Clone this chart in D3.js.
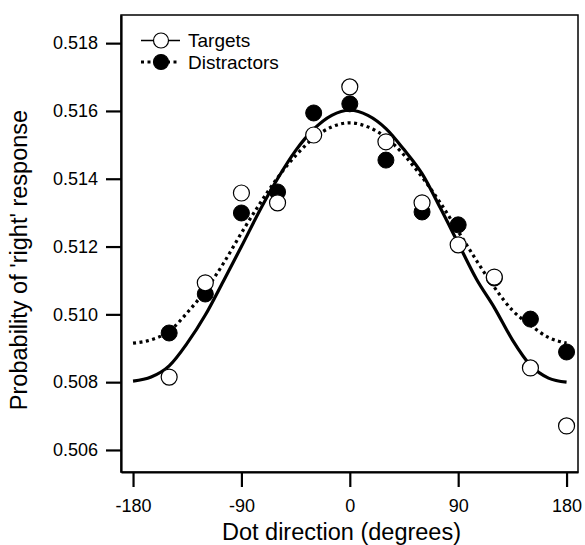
<!DOCTYPE html>
<html>
<head>
<meta charset="utf-8">
<script src="https://cdn.jsdelivr.net/npm/d3@7"></script>
<style>
body { margin: 0; background: #fff; }
svg text { font-family: "Liberation Sans", Arial, sans-serif; fill: #000; }
</style>
</head>
<body>
<div id="chart"></div>
<script>
// dot directions (degrees)
var directions = [-150,-120,-90,-60,-30,0,30,60,90,120,150,180]
var targets     = [0.50815,0.51093,0.51358,0.51329,0.51529,0.51671,0.51509,0.51329,0.51205,0.51110,0.50842,0.50671]
var distractors = [0.50945,0.51060,0.51299,0.51361,0.51594,0.51621,0.51455,0.51302,0.51264,0.51107,0.50986,0.50889]

// fitted curves, every 15 degrees
var fitX = [-180,-165,-150,-135,-120,-105,-90,-75,-60,-45,-30,-15,0,15,30,45,60,75,90,105,120,135,150,165,180]
var fitTargets = [0.50803,0.50815,0.50848,0.50915,0.50998,0.51098,0.51200,0.51305,0.51400,0.51483,0.51546,0.51587,0.51602,
                  0.51587,0.51548,0.51486,0.51415,0.51315,0.51210,0.51105,0.51020,0.50925,0.50850,0.50812,0.50800]
var fitDistractors = [0.50915,0.50925,0.50950,0.51005,0.51070,0.51150,0.51240,0.51325,0.51403,0.51468,0.51520,0.51553,0.51565,
                      0.51553,0.51522,0.51470,0.51405,0.51330,0.51245,0.51160,0.51080,0.51012,0.50968,0.50932,0.50915]

var xTicks = [-180,-90,0,90,180]
var yTicks = [0.506,0.508,0.510,0.512,0.514,0.516,0.518]
var legendNames = ['Targets','Distractors']

var W = 585, H = 545
var pLeft = 121, pRight = 578, pTop = 15, pBottom = 472

var x = d3.scaleLinear().domain([-190,189.5]).range([pLeft,pRight])
var y = d3.scaleLinear().domain([0.50535,0.51883]).range([pBottom,pTop])

var svg = d3.select('#chart').append('svg')
            .attr('width',W).attr('height',H)

// frame
svg.append('rect')
   .attr('x',pLeft).attr('y',pTop)
   .attr('width',pRight-pLeft).attr('height',pBottom-pTop)
   .style('fill','none').style('stroke','#000').style('stroke-width',1.5)

// axes
var xAxis = svg.append('g').attr('transform','translate(0,'+pBottom+')')
   .call(d3.axisBottom(x).tickValues(xTicks).tickSize(15).tickSizeOuter(0).tickPadding(12).tickFormat(d=>String(d)))
var yAxis = svg.append('g').attr('transform','translate('+pLeft+',0)')
   .call(d3.axisLeft(y).tickValues(yTicks).tickSize(15).tickSizeOuter(0).tickPadding(8).tickFormat(d3.format('.3f')))
;[xAxis,yAxis].forEach(a=>{
	a.select('.domain').style('stroke','#000').style('stroke-width',2.2)
	a.selectAll('.tick line').style('stroke','#000').style('stroke-width',2.2)
	a.selectAll('.tick text').style('font-size','18px').style('font-family','"Liberation Sans", Arial, sans-serif')
})

svg.append('text')
   .attr('x',(221+462)/2).attr('y',540)
   .attr('text-anchor','middle')
   .style('font-size','23.5px')
   .text('Dot direction (degrees)')
svg.append('text')
   .attr('transform','translate(27,260) rotate(-90)')
   .attr('text-anchor','middle')
   .style('font-size','23.5px')
   .text("Probability of 'right' response")

// fitted curves
var line = d3.line().x(d=>x(d[0])).y(d=>y(d[1])).curve(d3.curveMonotoneX)
svg.append('path')
   .attr('d',line(fitX.map((v,i)=>[v,fitDistractors[i]])))
   .style('fill','none').style('stroke','#000').style('stroke-width',3.2)
   .style('stroke-dasharray','3,3.5')
svg.append('path')
   .attr('d',line(fitX.map((v,i)=>[v,fitTargets[i]])))
   .style('fill','none').style('stroke','#000').style('stroke-width',3.2)

// data points
svg.append('g').selectAll('circle').data(directions.map((v,i)=>[v,distractors[i]]))
   .join('circle')
   .attr('cx',d=>x(d[0])).attr('cy',d=>y(d[1])).attr('r',8)
   .style('fill','#000').style('stroke','#000').style('stroke-width',1)
svg.append('g').selectAll('circle').data(directions.map((v,i)=>[v,targets[i]]))
   .join('circle')
   .attr('cx',d=>x(d[0])).attr('cy',d=>y(d[1])).attr('r',8)
   .style('fill','#fff').style('stroke','#000').style('stroke-width',1.2)

// legend
var leg = svg.append('g')
legendNames.forEach((n,i)=>{
	var ly = 40.5 + i*21.5
	var l = leg.append('line').attr('x1',141).attr('x2',180).attr('y1',ly).attr('y2',ly)
	           .style('stroke','#000')
	if(i===0) l.style('stroke-width',1.5)
	else l.style('stroke-width',3).style('stroke-dasharray','3,3.5')
	leg.append('circle').attr('cx',161).attr('cy',ly).attr('r',7.5)
	   .style('fill',i===0?'#fff':'#000').style('stroke','#000').style('stroke-width',1.2)
	leg.append('text').attr('x',188).attr('y',ly+6.5)
	   .style('font-size','19px').text(n)
})
</script>
</body>
</html>
